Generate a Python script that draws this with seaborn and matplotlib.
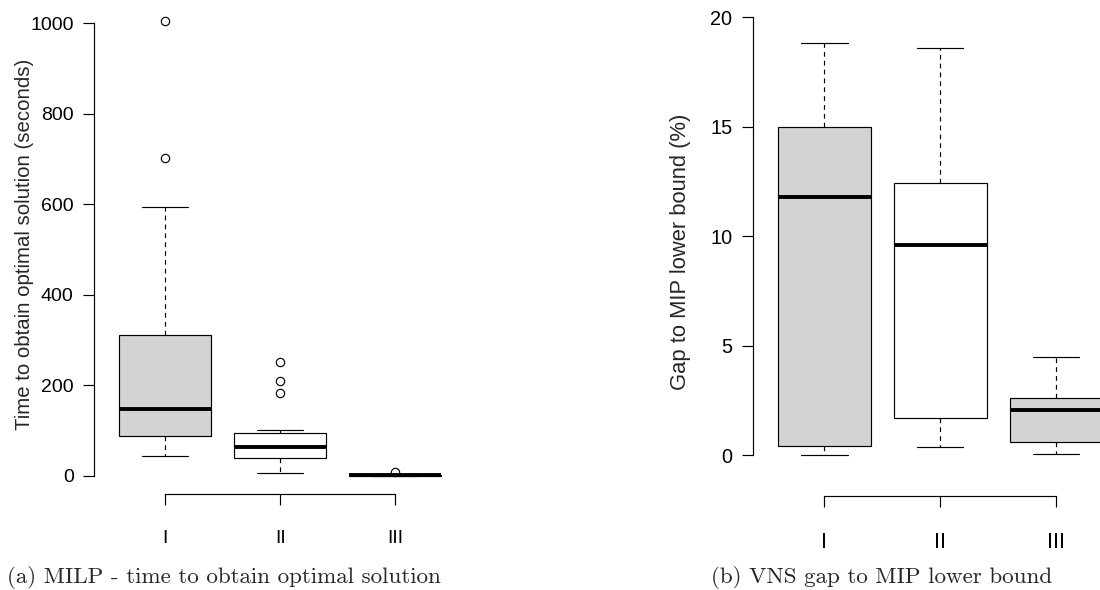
import matplotlib
matplotlib.use("Agg")
import matplotlib.pyplot as plt
import numpy as np
import pandas as pd
import seaborn as sns

# Instance classes
groups = ["I", "II", "III"]

# MILP time to optimal solution (seconds): five-number summaries and outliers
time_whislo = [44, 7, 0.5]
time_q1 = [88, 40, 1]
time_median = [148, 64, 2]
time_q3 = [311, 95, 3]
time_whishi = [594, 101, 4]
time_outliers = [[702, 1004], [183, 210, 252], [9]]

# VNS gap to MIP lower bound (%)
gap_whislo = [0.0, 0.39, 0.06]
gap_q1 = [0.42, 1.72, 0.59]
gap_median = [11.81, 9.59, 2.05]
gap_q3 = [15.0, 12.45, 2.62]
gap_whishi = [18.84, 18.6, 4.5]
gap_outliers = [[], [], []]

box_fill = {"I": "#d3d3d3", "II": "#ffffff", "III": "#d3d3d3"}


def summary_frame(lo, q1, med, q3, hi, outl, name):
    """Long table whose linear quartiles/whiskers equal the given summaries."""
    rows = []
    for g, a, b, c, d, e, o in zip(groups, lo, q1, med, q3, hi, outl):
        m = 1 + len(o)
        vals = [a] + [b] * m + [c] * m + [d] * m + [e] + list(o)
        rows += [(g, v) for v in vals]
    return pd.DataFrame(rows, columns=["group", name])


time_df = summary_frame(time_whislo, time_q1, time_median, time_q3,
                        time_whishi, time_outliers, "time")
gap_df = summary_frame(gap_whislo, gap_q1, gap_median, gap_q3,
                       gap_whishi, gap_outliers, "gap")

sns.set_theme(style="white")
plt.rcParams["font.family"] = ["Liberation Sans", "DejaVu Sans"]

W, H = 1100, 590
fig = plt.figure(figsize=(W / 100, H / 100), dpi=100)


def px_axes(x0, y0, x1, y1):
    return fig.add_axes([x0 / W, 1 - y1 / H, (x1 - x0) / W, (y1 - y0) / H])


# the right panel runs past the page edge, so its last box is cut off
ax1 = px_axes(94, 3, 466.3, 494.2)
ax2 = px_axes(752.7, -1, 1127.8, 495.6)

LW = 0.85
box_kws = dict(
    x="group", hue="group", order=groups, palette=box_fill, saturation=1,
    width=0.8, linecolor="black", linewidth=LW, legend=False,
    whiskerprops=dict(linestyle=(0, (4, 3.5)), linewidth=LW, color="black"),
    capprops=dict(linewidth=LW, color="black"),
    medianprops=dict(linewidth=2.8, color="black"),
    flierprops=dict(marker="o", markersize=6, markerfacecolor="none",
                    markeredgecolor="black", markeredgewidth=LW),
)

sns.boxplot(data=time_df, y="time", ax=ax1, **box_kws)
sns.boxplot(data=gap_df, y="gap", ax=ax2, **box_kws)

ax1.set_xlim(-0.62, 2.62)
ax1.set_ylim(-40.2, 1044.2)
ax1.set_yticks([0, 200, 400, 600, 800, 1000])
ax1.spines["left"].set_bounds(0, 1000)

ax2.set_xlim(-0.62, 2.62)
ax2.set_ylim(-1.84, 20.84)
ax2.set_yticks([0, 5, 10, 15, 20])
ax2.spines["left"].set_bounds(0, 20)

for ax, xsize, ysize in ((ax1, 14, 14), (ax2, 15.5, 14.3)):
    ax.set_xticks([0, 1, 2])
    ax.set_xticklabels(groups)
    ax.spines["bottom"].set_bounds(0, 2)
    for s in ("top", "right"):
        ax.spines[s].set_visible(False)
    for s in ("left", "bottom"):
        ax.spines[s].set_color("black")
        ax.spines[s].set_linewidth(LW)
    ax.tick_params(axis="both", direction="out", length=7.6, width=LW,
                   color="black", labelcolor="black", left=True, bottom=True)
    ax.tick_params(axis="x", pad=18.3, labelsize=xsize)
    ax.tick_params(axis="y", pad=7, labelsize=ysize)
    ax.set_xlabel("")
    ax.set_ylabel("")
    ax.patch.set_alpha(0)

fig.text(30 / W, 1 - 244 / H, "Time to obtain optimal solution (seconds)",
         rotation=90, rotation_mode="anchor", ha="center", va="baseline",
         fontsize=14.7)
fig.text(686 / W, 1 - 251.5 / H, "Gap to MIP lower bound (%)",
         rotation=90, rotation_mode="anchor", ha="center", va="baseline",
         fontsize=15.8)

cap_font = dict(family="cmr10", fontsize=16.6, va="baseline")
fig.text(7 / W, 1 - 583 / H, "(a) MILP - time to obtain optimal solution",
         ha="left", **cap_font)
fig.text(711 / W, 1 - 583 / H, "(b) VNS gap to MIP lower bound",
         ha="left", **cap_font)

fig.savefig("out.png", dpi=100)
